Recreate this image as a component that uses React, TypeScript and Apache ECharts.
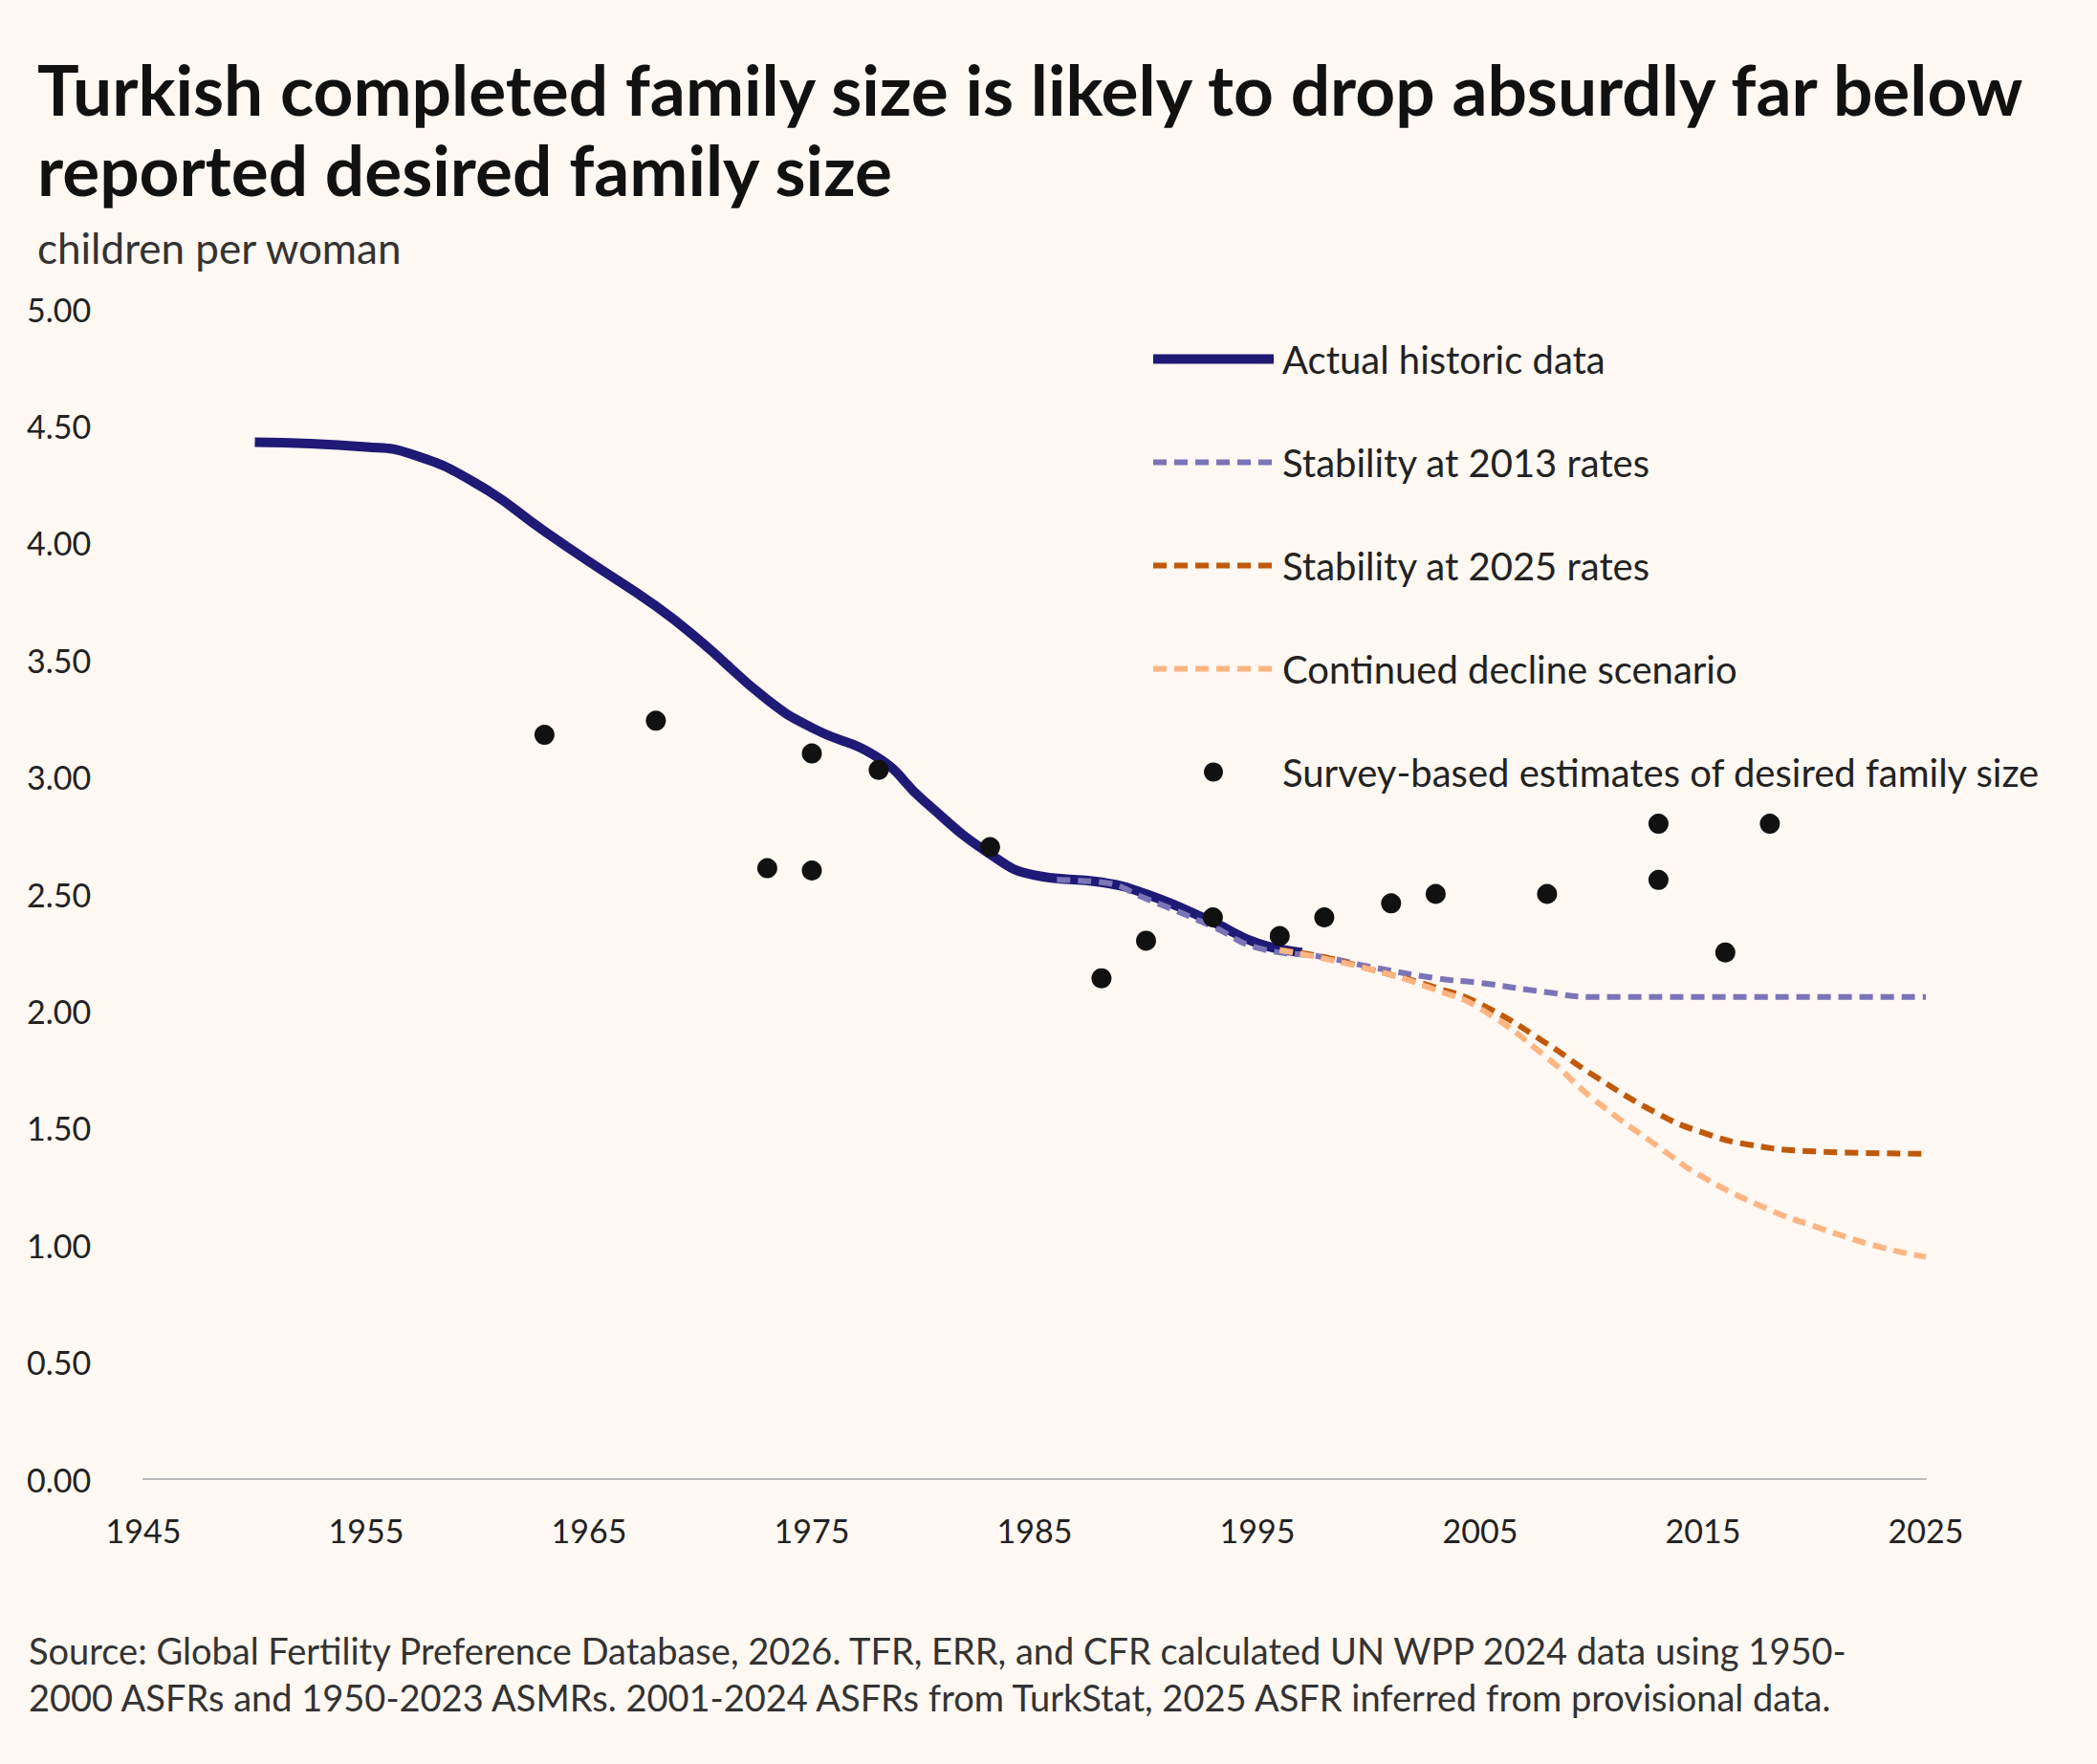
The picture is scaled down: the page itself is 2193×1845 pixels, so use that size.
import { useEffect, useRef } from "react";
import * as echarts from "echarts";

const historic = [[1950, 4.43], [1955, 4.41], [1957, 4.38], [1960, 4.25], [1963, 4.05], [1965, 3.92], [1968, 3.73], [1970, 3.58], [1973, 3.33], [1975, 3.21], [1978, 3.08], [1980, 2.9], [1983, 2.67], [1985, 2.58], [1988, 2.55], [1990, 2.5], [1993, 2.38], [1995, 2.29], [1997, 2.25]];
const stable2013 = [[1986, 2.56], [1988, 2.55], [1990, 2.48], [1993, 2.36], [1995, 2.27], [1998, 2.23], [2000, 2.19], [2003, 2.14], [2005, 2.12], [2008, 2.08], [2010, 2.06], [2015, 2.06], [2025, 2.06]];
const stable2025 = [[1996, 2.26], [1998, 2.23], [2000, 2.18], [2003, 2.1], [2005, 2.03], [2008, 1.86], [2010, 1.73], [2013, 1.56], [2015, 1.48], [2017, 1.43], [2020, 1.4], [2025, 1.39]];
const decline = [[1996, 2.26], [2000, 2.18], [2003, 2.09], [2005, 2.01], [2008, 1.8], [2010, 1.63], [2013, 1.42], [2015, 1.29], [2018, 1.15], [2020, 1.08], [2023, 0.99], [2025, 0.95]];
const surveys = [[1963, 3.18], [1968, 3.24], [1973, 2.61], [1975, 3.1], [1975, 2.6], [1978, 3.03], [1983, 2.7], [1988, 2.14], [1990, 2.3], [1993, 2.4], [1996, 2.32], [1998, 2.4], [2001, 2.46], [2003, 2.5], [2008, 2.5], [2013, 2.8], [2013, 2.56], [2016, 2.25], [2018, 2.8]];

const font = "Lato, 'Noto Sans', sans-serif";
const lineNames = ["Actual historic data", "Stability at 2013 rates", "Stability at 2025 rates", "Continued decline scenario"];
const dotName = "Survey-based estimates of desired family size";

const App = () => {
  const chartRef = useRef<HTMLDivElement>(null);

  useEffect(() => {
    document.body.style.margin = "0";
    const chart = echarts.init(chartRef.current!, undefined, { renderer: "svg" });
    const dashed = (name: string, data: number[][], color: string) => ({
      name, type: "line", data, smooth: true, showSymbol: false, symbol: "none",
      lineStyle: { color, width: 6, type: [14, 8] }, itemStyle: { color }, z: 3,
    });
    chart.setOption({
      animation: false,
      backgroundColor: "#fff8f3",
      textStyle: { fontFamily: font },
      title: [
        { text: "Turkish completed family size is likely to drop absurdly far below\nreported desired family size", left: 34, top: 46, textStyle: { fontSize: 73, fontWeight: "bold", color: "#111", lineHeight: 84, fontFamily: font } },
        { text: "children per woman", left: 34, top: 232, textStyle: { fontSize: 44, fontWeight: "normal", color: "#333", fontFamily: font } },
        { text: "Source: Global Fertility Preference Database, 2026. TFR, ERR, and CFR calculated UN WPP 2024 data using 1950-\n2000 ASFRs and 1950-2023 ASMRs. 2001-2024 ASFRs from TurkStat, 2025 ASFR inferred from provisional data.", left: 25, top: 1696, textStyle: { fontSize: 38, fontWeight: "normal", color: "#333", lineHeight: 49, fontFamily: font } },
      ],
      legend: {
        orient: "vertical", left: 1196, top: 350, itemGap: 67, itemWidth: 126, itemHeight: 20,
        textStyle: { fontSize: 40, lineHeight: 41, color: "#222", fontFamily: font, padding: [0, 0, 0, 4] },
        data: [
          ...lineNames.map((n, i) => ({ name: n, itemStyle: { opacity: 0 }, lineStyle: { width: i === 0 ? 10 : 6 } })),
          { name: dotName, icon: "circle" },
        ],
      },
      grid: { left: 150, right: 179, top: 323, bottom: 298 },
      xAxis: {
        type: "value", min: 1945, max: 2025, interval: 10,
        axisLine: { show: true, onZero: false, lineStyle: { color: "#bbb", width: 2 } },
        axisTick: { show: false }, splitLine: { show: false },
        axisLabel: { fontSize: 34, color: "#222", margin: 36, fontFamily: font, formatter: (v: number) => String(v) },
      },
      yAxis: {
        type: "value", min: 0, max: 5, interval: 0.5,
        axisLine: { show: false }, axisTick: { show: false }, splitLine: { show: false },
        axisLabel: { fontSize: 34, color: "#222", formatter: (v: number) => v.toFixed(2), align: "left", margin: 122, fontFamily: font },
      },
      series: [
        { name: lineNames[0], type: "line", data: historic, smooth: true, symbol: "none", lineStyle: { color: "#1f1a75", width: 10 }, itemStyle: { color: "#1f1a75" }, z: 2 },
        dashed(lineNames[1], stable2013, "#7b74b8"),
        dashed(lineNames[2], stable2025, "#c05a0a"),
        dashed(lineNames[3], decline, "#ffb582"),
        { name: dotName, type: "scatter", data: surveys, symbolSize: 21, itemStyle: { color: "#111", opacity: 1 }, z: 5 },
      ],
    });
    return () => chart.dispose();
  }, []);

  return <div ref={chartRef} style={{ width: 2193, height: 1845 }} />;
};

export default App;
